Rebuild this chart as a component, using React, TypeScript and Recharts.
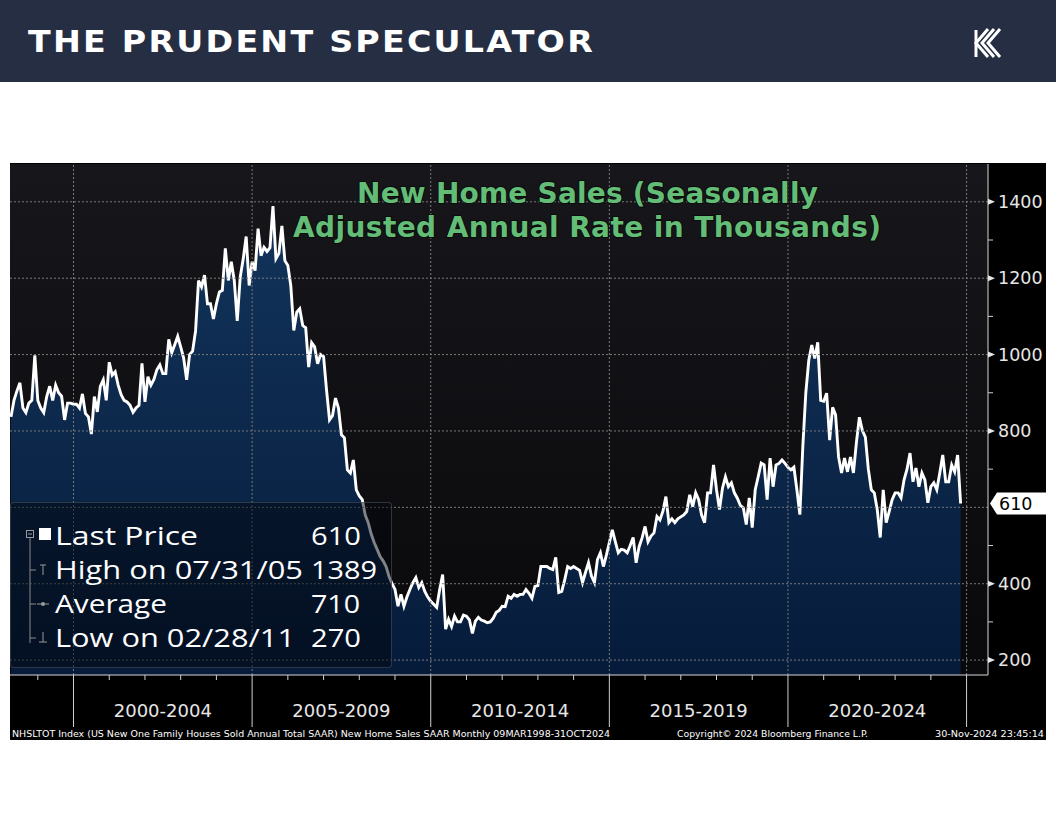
import { ComposedChart, Area, XAxis, YAxis, ReferenceLine, ReferenceDot } from 'recharts'

// NHSLTOT, thousands of units (SAAR), monthly from Mar 1998 to Oct 2024
const startYear = 1998
const startMonth = 3

const sales1998to1999 = [
  837, 880, 905, 926, 860, 848, 873, 880, 998, 880,
  860, 848, 890, 917, 880, 920, 900, 891, 829, 873, 873, 870,
]
const sales2000to2004 = [
  870, 860, 897, 846, 837, 792, 890, 850, 917, 934, 880, 980,
  946, 955, 920, 895, 880, 876, 867, 849, 860, 867, 977, 876,
  942, 920, 935, 960, 973, 950, 950, 1040, 1005, 1026, 1048, 1020,
  991, 934, 1000, 1009, 1062, 1194, 1177, 1208, 1133, 1133, 1093, 1133,
  1164, 1168, 1278, 1194, 1243, 1194, 1088, 1203, 1250, 1309, 1181, 1243,
]
const sales2005to2009 = [
  1220, 1330, 1259, 1281, 1270, 1280, 1389, 1251, 1265, 1337, 1246, 1233,
  1180, 1063, 1111, 1120, 1076, 1070, 967, 1031, 1020, 976, 1000, 995,
  907, 829, 840, 886, 860, 790, 782, 698, 690, 724, 646, 630,
  620, 580, 560, 530, 508, 490, 471, 460, 445, 419, 400, 385,
  341, 372, 341, 365, 385, 403, 416, 390, 403, 380, 365, 354,
]
const sales2010to2014 = [
  346, 338, 385, 424, 281, 307, 288, 315, 300, 300, 318, 315,
  305, 270, 302, 312, 305, 302, 298, 300, 310, 325, 330, 341,
  340, 367, 362, 372, 367, 372, 372, 385, 375, 362, 393, 395,
  445, 445, 445, 440, 437, 469, 377, 380, 410, 445, 440, 445,
  440, 435, 403, 430, 455, 420, 403, 463, 481, 445, 475, 508,
]
const sales2015to2019 = [
  541, 510, 481, 490, 488, 481, 500, 521, 455, 497, 520, 550,
  510, 525, 533, 576, 567, 590, 628, 560, 570, 560, 570, 575,
  580, 589, 633, 602, 638, 620, 580, 560, 638, 638, 711, 646,
  594, 650, 680, 654, 664, 638, 624, 605, 599, 555, 625, 547,
  646, 680, 716, 711, 620, 729, 654, 711, 715, 724, 715, 705,
]
const sales2020to2024 = [
  698, 705, 646, 581, 760, 900, 985, 1025, 990, 1032, 880, 878,
  899, 776, 862, 842, 732, 690, 729, 693, 732, 690, 770, 836,
  801, 784, 700, 646, 638, 594, 521, 646, 560, 589, 620, 638,
  638, 625, 672, 700, 742, 667, 703, 654, 690, 672, 612, 654,
  664, 646, 690, 737, 667, 667, 711, 693, 737, 610,
]

const periodLabels = ['2000-2004', '2005-2009', '2010-2014', '2015-2019', '2020-2024']
const periodStarts = [2000, 2005, 2010, 2015, 2020]
const yearTicks = [
  1999, 2000, 2001, 2002, 2003, 2004, 2005, 2006, 2007, 2008, 2009, 2010, 2011,
  2012, 2013, 2014, 2015, 2016, 2017, 2018, 2019, 2020, 2021, 2022, 2023, 2024, 2025,
]
const valueTicks = [200, 300, 400, 500, 600, 700, 800, 900, 1000, 1100, 1200, 1300, 1400]
const gridValues = [200, 400, 600, 800, 1000, 1200, 1400]
const gridYears = [2000, 2005, 2010, 2015, 2020, 2025]

const legendRows = [
  { label: 'Last Price', value: '610' },
  { label: 'High on 07/31/05', value: '1389' },
  { label: 'Average', value: '710' },
  { label: 'Low on 02/28/11', value: '270' },
]
const lastPrice = 610

const sales = [
  ...sales1998to1999,
  ...sales2000to2004,
  ...sales2005to2009,
  ...sales2010to2014,
  ...sales2015to2019,
  ...sales2020to2024,
]

// month-end positions in decimal years
const data = sales.map((v, i) => {
  const m = startMonth - 1 + i
  return { t: startYear + Math.floor(m / 12) + ((m % 12) + 1) / 12, sales: v }
})

const xDomain = [1998.222, 2025.6]
const yDomain = [161, 1499]
const axisFont = 'DejaVu Sans, sans-serif'

function BottomTick(props: any) {
  const { x, y, payload } = props
  const v = payload.value
  if (!Number.isInteger(v)) {
    const idx = periodStarts.indexOf(v - 2.5)
    return (
      <text x={x} y={y + 42} textAnchor="middle" fontFamily={axisFont} fontSize={18} fill="#e6e6e6">
        {periodLabels[idx]}
      </text>
    )
  }
  const long = v % 5 === 0
  return <line x1={x} x2={x} y1={y} y2={y + (long ? 52 : 5)} stroke="#cfcfcf" strokeWidth={1} />
}

function RightTick(props: any) {
  const { x, y, payload } = props
  const v = payload.value
  if (v % 200 !== 0) {
    return <line x1={x} x2={x + 5} y1={y} y2={y} stroke="#cfcfcf" strokeWidth={1} />
  }
  // the last-price tag sits over this label
  if (Math.abs(v - lastPrice) < 40) return <g />
  return (
    <g>
      <polygon points={`${x},${y - 3} ${x + 7},${y} ${x},${y + 3}`} fill="#e6e6e6" />
      <text x={x + 10} y={y} dy="0.36em" fontFamily={axisFont} fontSize={17.5} fill="#e6e6e6">
        {v}
      </text>
    </g>
  )
}

function PriceTag(props: any) {
  const { cx, cy } = props
  return (
    <g>
      <polygon
        points={`${cx + 2},${cy} ${cx + 9},${cy - 11} ${cx + 58},${cy - 11} ${cx + 58},${cy + 11} ${cx + 9},${cy + 11}`}
        fill="#ffffff"
      />
      <text x={cx + 11} y={cy} dy="0.36em" fontFamily={axisFont} fontSize={17.5} fill="#000">
        {lastPrice}
      </text>
    </g>
  )
}

const labelWidths = [143, 248, 112, 240]
const valueWidths = [50, 66, 49, 50]

function Legend() {
  const rowY = [42, 76, 110, 144]
  return (
    <div
      style={{
        position: 'absolute',
        left: 10,
        top: 502,
        width: 380,
        height: 164,
        background: 'rgba(2,6,14,0.5)',
        border: '1px solid rgba(80,88,100,0.55)',
        borderRadius: 4,
      }}
    >
      <svg width={380} height={164} style={{ position: 'absolute', left: 0, top: 0 }}>
        <rect x={15.5} y={27.5} width={7} height={7} fill="none" stroke="#9a9a9a" />
        <line x1={17} x2={21} y1={31} y2={31} stroke="#9a9a9a" />
        <line x1={19} x2={19} y1={35} y2={140} stroke="#8a8a8a" />
        {[67, 101, 135].map((yy) => (
          <line key={yy} x1={19} x2={25} y1={yy} y2={yy} stroke="#8a8a8a" />
        ))}
        <rect x={28} y={25} width={12} height={12} fill="#fff" />
        <line x1={29} x2={35} y1={62} y2={62} stroke="#9a9a9a" />
        <line x1={32} x2={32} y1={62} y2={72} stroke="#9a9a9a" />
        <line x1={26} x2={38} y1={101} y2={101} stroke="#9a9a9a" />
        <circle cx={32} cy={101} r={2} fill="#9a9a9a" />
        <line x1={32} x2={32} y1={129} y2={139} stroke="#9a9a9a" />
        <line x1={28} x2={36} y1={139} y2={139} stroke="#9a9a9a" />
        {legendRows.map((r, i) => (
          <g key={r.label} fontFamily="Open Sans, sans-serif" fontSize={26} fill="#fff">
            <text x={44} y={rowY[i]} textLength={labelWidths[i]} lengthAdjust="spacingAndGlyphs">
              {r.label}
            </text>
            <text x={300} y={rowY[i]} textLength={valueWidths[i]} lengthAdjust="spacingAndGlyphs">
              {r.value}
            </text>
          </g>
        ))}
      </svg>
    </div>
  )
}

export default function App() {
  const xTicks = [...yearTicks, ...periodStarts.map((s) => s + 2.5)]
  return (
    <div style={{ position: 'absolute', left: 0, top: 0, width: 1056, height: 816, background: '#fff', overflow: 'hidden' }}>
      <div style={{ position: 'absolute', left: 0, top: 0, width: 1056, height: 82, background: '#252e43' }} />

      <div style={{ position: 'absolute', left: 10, top: 163, width: 1036, height: 577, background: '#000' }}>
        <div
          style={{
            position: 'absolute',
            left: 0,
            top: 1,
            width: 978,
            height: 511,
            background: 'linear-gradient(#17171b, #09090c)',
          }}
        />
        <div style={{ position: 'absolute', left: 0, top: 0 }}>
          <ComposedChart width={1036} height={577} data={data} margin={{ top: 1, right: 0, bottom: 1, left: 0 }}>
            <defs>
              <linearGradient id="areaFill" x1="0" y1="0" x2="0" y2="1">
                <stop offset="0%" stopColor="#12345b" />
                <stop offset="100%" stopColor="#061b3a" />
              </linearGradient>
            </defs>
            <XAxis
              dataKey="t"
              type="number"
              domain={xDomain}
              allowDataOverflow
              ticks={xTicks}
              interval={0}
              height={64}
              tickSize={0}
              tickMargin={0}
              tickLine={false}
              tick={<BottomTick />}
              axisLine={{ stroke: '#d6d6d6', strokeWidth: 1 }}
            />
            <YAxis
              orientation="right"
              type="number"
              domain={yDomain}
              allowDataOverflow
              ticks={valueTicks}
              interval={0}
              width={58}
              tickSize={0}
              tickMargin={0}
              tickLine={false}
              tick={<RightTick />}
              axisLine={{ stroke: '#d6d6d6', strokeWidth: 1 }}
            />
            <Area
              type="linear"
              dataKey="sales"
              stroke="#ffffff"
              strokeWidth={2.9}
              fill="url(#areaFill)"
              fillOpacity={1}
              isAnimationActive={false}
              dot={false}
              activeDot={false}
            />
            {gridValues.map((v) => (
              <ReferenceLine key={`h${v}`} y={v} stroke="#7a7a7a" strokeDasharray="2 2" strokeWidth={1} />
            ))}
            {gridYears.map((v) => (
              <ReferenceLine key={`v${v}`} x={v} stroke="#7a7a7a" strokeDasharray="2 2" strokeWidth={1} ifOverflow="visible" />
            ))}
            <ReferenceDot x={xDomain[1]} y={lastPrice} ifOverflow="visible" shape={(p: any) => <PriceTag {...p} />} />
          </ComposedChart>
        </div>
      </div>

      <Legend />

      <svg width={1056} height={816} style={{ position: 'absolute', left: 0, top: 0, pointerEvents: 'none' }}>
        <text
          x={28}
          y={52}
          fontFamily="DejaVu Sans, sans-serif"
          fontWeight="bold"
          fontSize={30}
          letterSpacing={2}
          fill="#ffffff"
          textLength={567}
          lengthAdjust="spacingAndGlyphs"
        >
          THE PRUDENT SPECULATOR
        </text>
        <g stroke="#ffffff" strokeWidth={3} fill="none">
          <polyline points="988,29 976,43 988,57" />
          <polyline points="994,29 982,43 994,57" />
          <polyline points="1000,29 988,43 1000,57" />
          <line x1={976} x2={976} y1={30} y2={57} />
        </g>

        <g fontFamily="DejaVu Sans, sans-serif" fontWeight="bold" fontSize={28} fill="#63bd77" stroke="#0b0b0b" strokeWidth={2} style={{ paintOrder: 'stroke' }}>
          <text x={587.5} y={203} textAnchor="middle" textLength={461} lengthAdjust="spacing">
            New Home Sales (Seasonally
          </text>
          <text x={587} y={237} textAnchor="middle" textLength={588} lengthAdjust="spacing">
            Adjusted Annual Rate in Thousands)
          </text>
        </g>

        <g fontFamily="DejaVu Sans, sans-serif" fontSize={9.5} fill="#ffffff">
          <text x={12} y={737} textLength={598} lengthAdjust="spacingAndGlyphs">
            NHSLTOT Index (US New One Family Houses Sold Annual Total SAAR) New Home Sales SAAR  Monthly 09MAR1998-31OCT2024
          </text>
          <text x={677} y={737} textLength={191} lengthAdjust="spacingAndGlyphs">
            Copyright© 2024 Bloomberg Finance L.P.
          </text>
          <text x={935} y={737} textLength={109} lengthAdjust="spacingAndGlyphs">
            30-Nov-2024 23:45:14
          </text>
        </g>
      </svg>
    </div>
  )
}
